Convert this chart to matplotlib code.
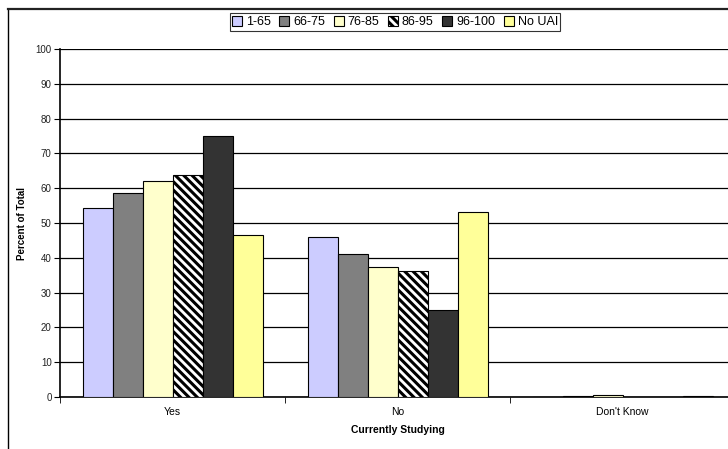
import matplotlib
matplotlib.use("Agg")
import matplotlib.pyplot as plt
import numpy as np
from matplotlib.lines import Line2D

plt.rcParams['font.family'] = ['Liberation Sans', 'DejaVu Sans']
plt.rcParams['hatch.linewidth'] = 2.2

categories = ["Yes", "No", "Don't Know"]
series_names = ["1-65", "66-75", "76-85", "86-95", "96-100", "No UAI"]
values = {
    "1-65":   [54.3, 46.0, 0.0],
    "66-75":  [58.7, 41.0, 0.3],
    "76-85":  [62.0, 37.4, 0.6],
    "86-95":  [63.9, 36.2, 0.0],
    "96-100": [75.0, 25.1, 0.0],
    "No UAI": [46.6, 53.3, 0.2],
}
y_ticks = list(range(0, 101, 10))

colors = ["#CCCCFF", "#808080", "#FFFFCC", "white", "#333333", "#FFFF99"]
hatches = [None, None, None, "\\\\\\\\", None, None]

fig = plt.figure(figsize=(7.28, 4.49), dpi=100)
ax = fig.add_axes([60/728, 1-397/449, 675/728, 348/449])

n = len(series_names)
bw = 30/225
x = np.arange(len(categories))
for i, name in enumerate(series_names):
    offs = (i - (n-1)/2) * bw
    ax.bar(x + offs, values[name], width=bw, color=colors[i], edgecolor="black",
           linewidth=0.8, hatch=hatches[i], label=name, zorder=3)

ax.set_xlim(-0.5, len(categories) - 0.5)
ax.set_ylim(0, 100)
ax.set_yticks(y_ticks)
ax.set_yticklabels([str(t) for t in y_ticks], fontsize=7, color="#222222")
ax.yaxis.grid(True, color="black", linewidth=0.9, zorder=0)
ax.set_axisbelow(True)
ax.set_xticks(x)
ax.set_xticklabels(categories, fontsize=7.5)
ax.tick_params(axis="x", which="major", length=0, pad=7)
ax.set_xticks(np.arange(len(categories)+1) - 0.5, minor=True)
ax.tick_params(axis="x", which="minor", length=4, color="black")
ax.tick_params(axis="y", length=4, pad=2)
for s in ["top", "right"]:
    ax.spines[s].set_visible(False)
ax.spines["left"].set_linewidth(1.2)
ax.spines["bottom"].set_linewidth(1.2)

ax.set_ylabel("Percent of Total", fontsize=7, fontweight="bold", labelpad=6)
ax.set_xlabel("Currently Studying", fontsize=7.5, fontweight="bold", labelpad=6)

leg = fig.legend(loc="center", bbox_to_anchor=(395/728, 1-22/449), ncol=6,
                 fontsize=9, frameon=True, fancybox=False, edgecolor="black",
                 handlelength=0.8, handleheight=0.8, handletextpad=0.3,
                 columnspacing=0.7, borderpad=0.2, borderaxespad=0)
leg.get_frame().set_linewidth(0.8)

# outer chart frame
fig.add_artist(Line2D([8/728, 8/728], [0, 1-9/449], color="black", linewidth=1.0,
                      transform=fig.transFigure))
fig.add_artist(Line2D([8/728, 1], [1-9/449, 1-9/449], color="#222222", linewidth=1.6,
                      transform=fig.transFigure))

fig.savefig("out.png", dpi=100)
